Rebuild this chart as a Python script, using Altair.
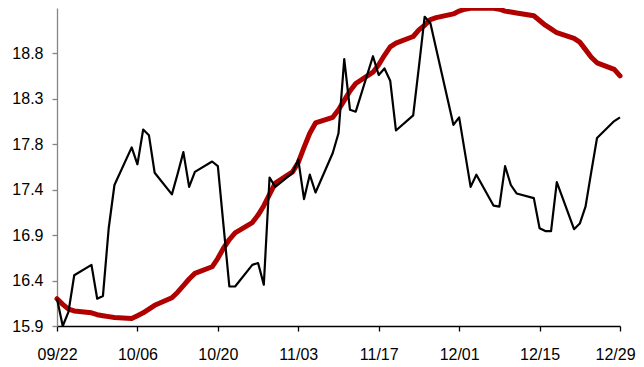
import altair as alt
import pandas as pd

dates = [
    "2015-09-22", "2015-09-23", "2015-09-24", "2015-09-25",
    "2015-09-28", "2015-09-29", "2015-09-30", "2015-10-01", "2015-10-02",
    "2015-10-05", "2015-10-06", "2015-10-07", "2015-10-08", "2015-10-09",
    "2015-10-12", "2015-10-13", "2015-10-14", "2015-10-15", "2015-10-16",
    "2015-10-19", "2015-10-20", "2015-10-21", "2015-10-22", "2015-10-23",
    "2015-10-26", "2015-10-27", "2015-10-28", "2015-10-29", "2015-10-30",
    "2015-11-02", "2015-11-03", "2015-11-04", "2015-11-05", "2015-11-06",
    "2015-11-09", "2015-11-10", "2015-11-11", "2015-11-12", "2015-11-13",
    "2015-11-16", "2015-11-17", "2015-11-18", "2015-11-19", "2015-11-20",
    "2015-11-23", "2015-11-24", "2015-11-25", "2015-11-26", "2015-11-27",
    "2015-11-30", "2015-12-01", "2015-12-02", "2015-12-03", "2015-12-04",
    "2015-12-07", "2015-12-08", "2015-12-09", "2015-12-10", "2015-12-11",
    "2015-12-14", "2015-12-15", "2015-12-16", "2015-12-17", "2015-12-18",
    "2015-12-21", "2015-12-22", "2015-12-23", "2015-12-24", "2015-12-25",
    "2015-12-28", "2015-12-29",
]

black_values = [
    16.19, 15.90, 16.05, 16.44,
    16.55, 16.19, 16.22, 16.94, 17.40,
    17.80, 17.62, 17.99, 17.93, 17.53,
    17.30, 17.52, 17.75, 17.38, 17.54,
    17.65, 17.60, 16.96, 16.32, 16.32,
    16.55, 16.57, 16.34, 17.48, 17.38,
    17.53, 17.67, 17.25, 17.51, 17.32,
    17.74, 17.95, 18.74, 18.20, 18.18,
    18.77, 18.57, 18.64, 18.51, 17.98,
    18.14, 18.66, 19.19, 19.12, 18.85,
    18.04, 18.12, 17.75, 17.38, 17.51,
    17.18, 17.17, 17.60, 17.40, 17.31,
    17.26, 16.94, 16.91, 16.91, 17.43,
    16.93, 16.99, 17.17, 17.54, 17.90,
    18.08, 18.12,
]

red_values = [
    16.19, 16.13, 16.08, 16.06,
    16.04, 16.02, 16.01, 16.00, 15.99,
    15.98, 16.01, 16.04, 16.08, 16.12,
    16.20, 16.26, 16.33, 16.40, 16.46,
    16.53, 16.62, 16.73, 16.82, 16.89,
    17.00, 17.08, 17.18, 17.30, 17.42,
    17.54, 17.64, 17.80, 17.95, 18.06,
    18.12, 18.20, 18.30, 18.40, 18.48,
    18.60, 18.68, 18.78, 18.87, 18.91,
    18.98, 19.05, 19.10, 19.16, 19.18,
    19.22, 19.25, 19.27, 19.28, 19.28,
    19.28, 19.27, 19.25, 19.24, 19.23,
    19.20, 19.15, 19.10, 19.06, 19.02,
    18.96, 18.92, 18.84, 18.76, 18.70,
    18.63, 18.56,
]

y_ticks = [15.9, 16.383, 16.867, 17.351, 17.833, 18.317, 18.8]
x_tick_dates = [(2015, 9, 22), (2015, 10, 6), (2015, 10, 20), (2015, 11, 3),
                (2015, 11, 17), (2015, 12, 1), (2015, 12, 15), (2015, 12, 29)]

df = pd.DataFrame({
    "date": [d + "T00:00:00" for d in dates],
    "black": black_values,
    "red": red_values,
})

x_vals = [alt.DateTime(year=y, month=m, date=d) for (y, m, d) in x_tick_dates]
last_ms_expr = "datetime(2015, 11, 29)"

x_enc = alt.X(
    "date:T",
    scale=alt.Scale(domain=[x_vals[0], x_vals[-1]]),
    axis=alt.Axis(
        title=None, values=x_vals, format="%m/%d", grid=False,
        domainColor="#000000", tickColor="#000000", tickSize=5,
        labelPadding=15, labelFontSize=16, labelFont="Liberation Sans",
        labelColor="#000000", labelFlush=False, labelOverlap=False,
        labelOffset={"condition": {"test": f"datum.value >= +{last_ms_expr}", "value": -5}, "value": 0},
    ),
)

y_scale = alt.Scale(domain=[15.9, 19.283], nice=False, zero=False)

red_line = alt.Chart(df).mark_line(
    color="#B00000", strokeWidth=5, strokeJoin="round", strokeCap="round", clip=False
).encode(
    x=x_enc,
    y=alt.Y(
        "red:Q", scale=y_scale,
        axis=alt.Axis(
            title=None, values=y_ticks, format=".1f", grid=False,
            domainColor="#868686", tickColor="#868686", tickSize=5,
            labelPadding=9, labelFontSize=16, labelFont="Liberation Sans",
            labelColor="#000000",
        ),
    ),
)

black_line = alt.Chart(df).mark_line(
    color="#000000", strokeWidth=2.2, strokeJoin="round", clip=False
).encode(
    x="date:T",
    y=alt.Y("black:Q", scale=y_scale),
)

chart = alt.layer(red_line, black_line).properties(
    width=563, height=318,
    autosize=alt.AutoSizeParams(type="none"),
    padding={"left": 49, "top": 0, "right": 16, "bottom": 40},
).configure_view(stroke=None).configure_axis(domainWidth=1.3, tickWidth=1.3)

chart.save("out.html", embed_options={"renderer": "svg", "actions": False})
